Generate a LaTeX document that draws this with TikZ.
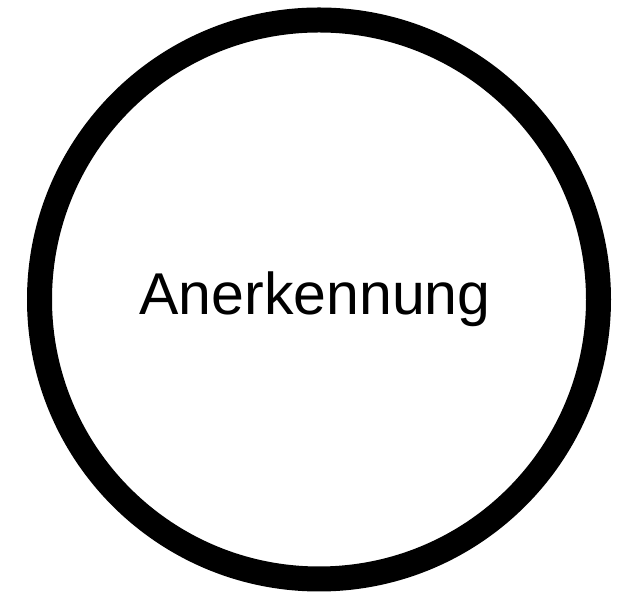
\documentclass[tikz,border=0pt]{standalone}
\usepackage{fontspec}
\setmainfont{Liberation Sans}
\begin{document}
\begin{tikzpicture}[x=1pt,y=1pt,
  ring/.style={draw=black,line width=25pt,fill=white},
  label/.style={font=\fontsize{59}{70}\selectfont,inner sep=0pt,anchor=base}]
\useasboundingbox (0,0) rectangle (638,599);
\fill[white] (0,0) rectangle (638,599);
\node[ring,circle,minimum size=559pt,inner sep=0pt] (c) at (319,299.5) {};
\node[label] (t) at (315,284) {Anerkennung};
\end{tikzpicture}
\end{document}
